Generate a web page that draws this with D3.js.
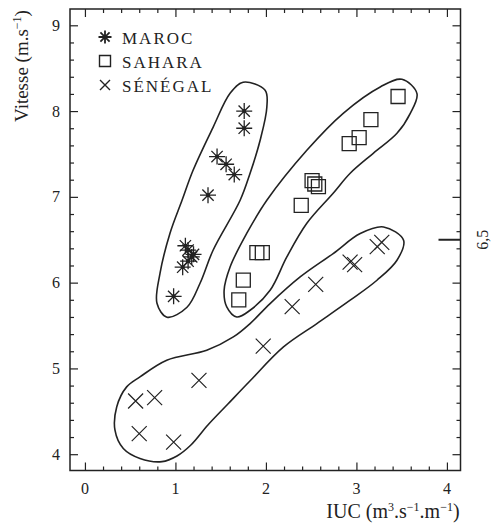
<!DOCTYPE html>
<html>
<head>
<meta charset="utf-8">
<script src="https://cdn.jsdelivr.net/npm/d3@7"></script>
<style>
  html, body { margin: 0; padding: 0; background: #fff; }
  svg { display: block; }
  text { font-family: "Liberation Serif", "DejaVu Serif", serif; fill: #222; }
</style>
</head>
<body>
<svg id="chart" width="500" height="525"></svg>
<script>
// Wind speed vs. IUC, three coastal regions
const series = ["MAROC", "SAHARA", "SÉNÉGAL"];

const marocIUC   = [1.76, 1.76, 1.46, 1.56, 1.65, 1.36, 1.11, 1.14, 1.18, 1.14, 1.08, 1.20, 0.98];
const marocV     = [8.00, 7.80, 7.47, 7.38, 7.26, 7.02, 6.43, 6.38, 6.30, 6.25, 6.18, 6.33, 5.84];

const saharaIUC  = [3.46, 3.16, 3.03, 2.92, 2.51, 2.54, 2.58, 2.39, 1.90, 1.96, 1.75, 1.70];
const saharaV    = [8.17, 7.90, 7.69, 7.62, 7.19, 7.15, 7.12, 6.90, 6.35, 6.35, 6.03, 5.80];

const senegalIUC = [3.28, 3.23, 2.93, 2.98, 2.55, 2.29, 1.97, 1.26, 0.56, 0.77, 0.60, 0.98];
const senegalV   = [6.47, 6.42, 6.24, 6.21, 5.98, 5.72, 5.26, 4.86, 4.62, 4.66, 4.24, 4.14];

// Hand-drawn grouping outlines (IUC, speed)
const marocOutline = [
  [1.748, 8.336], [1.991, 8.242], [2.010, 8.044], [1.936, 7.660], [1.825, 7.275],
  [1.715, 6.960], [1.416, 6.378], [1.272, 5.993], [1.128, 5.713], [0.907, 5.597],
  [0.796, 5.760], [0.830, 6.110], [0.940, 6.576], [1.073, 6.960], [1.195, 7.310],
  [1.416, 7.811], [1.604, 8.207]
];
const saharaOutline = [
  [3.503, 8.371], [3.669, 8.204], [3.595, 7.974], [3.448, 7.741], [3.186, 7.508],
  [2.931, 7.275], [2.743, 7.042], [2.452, 6.692], [2.231, 6.300], [2.046, 5.911],
  [1.825, 5.678], [1.678, 5.600], [1.567, 5.717], [1.538, 5.911], [1.604, 6.183],
  [1.789, 6.576], [2.010, 6.960], [2.452, 7.543], [2.854, 7.974], [3.263, 8.281]
];
const senegalOutline = [
  [3.300, 6.649], [3.521, 6.494], [3.448, 6.261], [3.227, 6.028], [2.931, 5.795],
  [2.563, 5.523], [2.194, 5.251], [1.823, 4.853], [1.580, 4.585], [1.359, 4.340],
  [1.171, 4.107], [1.017, 3.979], [0.851, 3.913], [0.608, 3.950], [0.424, 4.066],
  [0.332, 4.280], [0.351, 4.551], [0.461, 4.785], [0.608, 4.901], [0.904, 5.096],
  [1.346, 5.212], [1.640, 5.367], [1.825, 5.523], [2.046, 5.756], [2.378, 6.066],
  [2.743, 6.339], [3.042, 6.572]
];

const xMajor = [0, 1, 2, 3, 4];
const yMajor = [4, 5, 6, 7, 8, 9];
const markValue = 6.5;
const markLabel = "6,5";

const ink = "#222";
const svg = d3.select("#chart");

const frame = { left: 70, right: 460.5, top: 9, bottom: 470.5 };
const x = d3.scaleLinear().domain([-0.165, 4.15]).range([frame.left, frame.right]);
const y = d3.scaleLinear().domain([3.81, 9.19]).range([frame.bottom, frame.top]);

const xMinor = d3.range(0, 4.001, 0.2);
const yMinor = d3.range(4, 9.001, 0.2);

// Frame
svg.append("rect")
  .attr("x", frame.left).attr("y", frame.top)
  .attr("width", frame.right - frame.left).attr("height", frame.bottom - frame.top)
  .attr("fill", "none").attr("stroke", ink).attr("stroke-width", 1.5);

const isMajor = (v, majors) => majors.some(m => Math.abs(m - v) < 1e-6);

// Inward ticks on all four sides
function innerTicks(axisGen, vals, tx) {
  const g = svg.append("g").attr("transform", tx);
  g.call(axisGen.tickValues(vals).tickFormat("").tickSizeOuter(0));
  g.select(".domain").remove();
  g.selectAll(".tick line")
    .attr("stroke", ink).attr("stroke-width", 1.2);
  return g;
}
function sizeTicks(g, dirSign, attr, majors) {
  g.selectAll(".tick line").each(function(d) {
    const len = isMajor(d, majors) ? 8 : 4;
    d3.select(this).attr(attr, dirSign * len);
  });
}
let g;
g = innerTicks(d3.axisBottom(x), xMinor, `translate(0,${frame.bottom})`);
sizeTicks(g, -1, "y2", xMajor);
g = innerTicks(d3.axisTop(x), xMinor, `translate(0,${frame.top})`);
sizeTicks(g, 1, "y2", xMajor);
g = innerTicks(d3.axisLeft(y), yMinor, `translate(${frame.left},0)`);
sizeTicks(g, 1, "x2", yMajor);
g = innerTicks(d3.axisRight(y), yMinor, `translate(${frame.right},0)`);
sizeTicks(g, -1, "x2", yMajor);

// Tick labels
svg.append("g").selectAll("text").data(xMajor).join("text")
  .attr("x", d => x(d)).attr("y", frame.bottom + 23)
  .attr("text-anchor", "middle").attr("font-size", 16)
  .text(d => d);
svg.append("g").selectAll("text").data(yMajor).join("text")
  .attr("x", frame.left - 10).attr("y", d => y(d)).attr("dy", "0.35em")
  .attr("text-anchor", "end").attr("font-size", 16)
  .text(d => d);

// Reference mark on the right axis
svg.append("line")
  .attr("x1", frame.right - 22).attr("x2", frame.right)
  .attr("y1", y(markValue)).attr("y2", y(markValue))
  .attr("stroke", ink).attr("stroke-width", 2);
svg.append("text")
  .attr("transform", `translate(488,${y(markValue)}) rotate(-90)`)
  .attr("text-anchor", "middle").attr("font-size", 16)
  .text(markLabel);

// Axis titles
const xt = svg.append("text")
  .attr("x", 393).attr("y", 518).attr("text-anchor", "middle").attr("font-size", 20);
xt.append("tspan").text("IUC (m");
xt.append("tspan").attr("dy", -7).attr("font-size", 12).text("3");
xt.append("tspan").attr("dy", 7).text(".s");
xt.append("tspan").attr("dy", -7).attr("font-size", 12).text("−1");
xt.append("tspan").attr("dy", 7).text(".m");
xt.append("tspan").attr("dy", -7).attr("font-size", 12).text("−1");
xt.append("tspan").attr("dy", 7).text(")");

const yt = svg.append("text")
  .attr("transform", "translate(28,66) rotate(-90)")
  .attr("text-anchor", "middle").attr("font-size", 19);
yt.append("tspan").text("Vitesse (m.s");
yt.append("tspan").attr("dy", -7).attr("font-size", 12).text("−1");
yt.append("tspan").attr("dy", 7).text(")");

// Outlines
const outline = d3.line().x(d => x(d[0])).y(d => y(d[1]))
  .curve(d3.curveCatmullRomClosed.alpha(0.5));
svg.append("g").selectAll("path")
  .data([marocOutline, saharaOutline, senegalOutline]).join("path")
  .attr("d", outline).attr("fill", "none")
  .attr("stroke", ink).attr("stroke-width", 1.6);

// Marker shapes
function asteriskPath(r) {
  const p = d3.path();
  for (let k = 0; k < 4; k++) {
    const a = k * Math.PI / 4;
    p.moveTo(-r * Math.cos(a), -r * Math.sin(a));
    p.lineTo(r * Math.cos(a), r * Math.sin(a));
  }
  return p.toString();
}
function squarePath(s) {
  const h = s / 2;
  return `M${-h},${-h}H${h}V${h}H${-h}Z`;
}
function crossPath(h) {
  return `M${-h},${-h}L${h},${h}M${-h},${h}L${h},${-h}`;
}

function plotSeries(xs, ys, shape, sw, dot) {
  const pts = xs.map((v, i) => [v, ys[i]]);
  const grp = svg.append("g");
  grp.selectAll("path").data(pts).join("path")
    .attr("transform", d => `translate(${x(d[0])},${y(d[1])})`)
    .attr("d", shape).attr("fill", "none")
    .attr("stroke", ink).attr("stroke-width", sw);
  if (dot) {
    grp.selectAll("circle").data(pts).join("circle")
      .attr("cx", d => x(d[0])).attr("cy", d => y(d[1])).attr("r", 2)
      .attr("fill", ink);
  }
}
plotSeries(marocIUC, marocV, asteriskPath(8), 1.3, true);
plotSeries(saharaIUC, saharaV, squarePath(14), 1.3, false);
plotSeries(senegalIUC, senegalV, crossPath(7.5), 1.2, false);

// Legend
const legendShapes = [asteriskPath(6.5), squarePath(11), crossPath(5)];
const legendY = [37, 61, 85];
const leg = svg.append("g");
series.forEach((name, i) => {
  leg.append("path")
    .attr("transform", `translate(105,${legendY[i]})`)
    .attr("d", legendShapes[i]).attr("fill", "none")
    .attr("stroke", ink).attr("stroke-width", i === 0 ? 1.8 : 1.4);
  leg.append("text")
    .attr("x", 122).attr("y", legendY[i] + 6.5)
    .attr("font-size", 17).attr("letter-spacing", 2)
    .text(name);
});
</script>
</body>
</html>
